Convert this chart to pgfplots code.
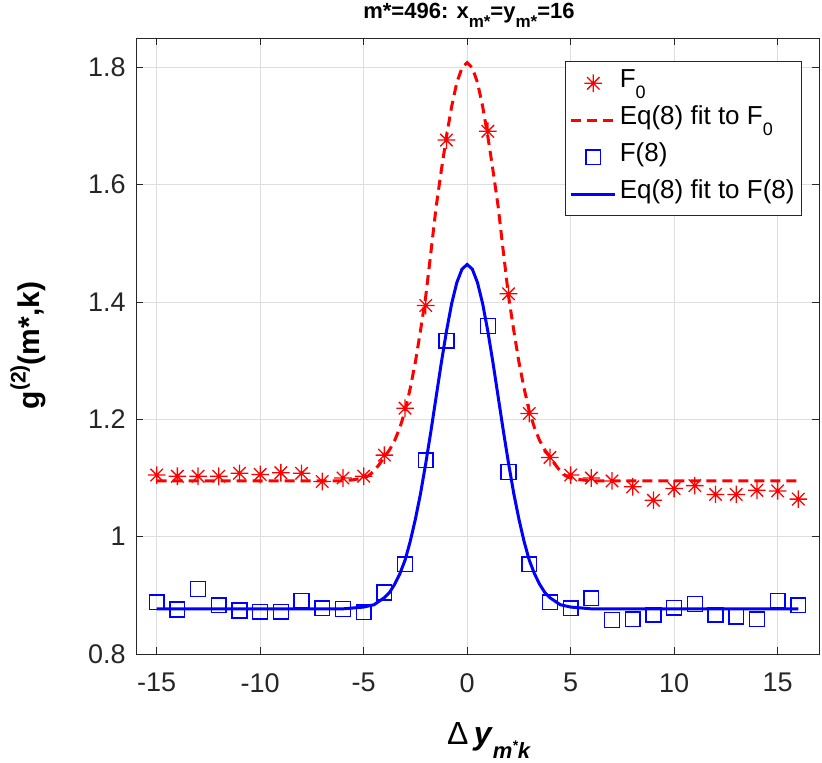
\documentclass[border=0pt]{standalone}
\usepackage{fontspec}
\setmainfont{Liberation Sans}
\usepackage{pgfplots}
\pgfplotsset{compat=1.18}

\definecolor{axgray}{rgb}{0.15,0.15,0.15}
\definecolor{gridgray}{rgb}{0.87,0.87,0.87}

\pgfdeclareplotmark{ast8}{%
  \pgfpathmoveto{\pgfqpoint{-\pgfplotmarksize}{0pt}}%
  \pgfpathlineto{\pgfqpoint{\pgfplotmarksize}{0pt}}%
  \pgfpathmoveto{\pgfqpoint{0pt}{-\pgfplotmarksize}}%
  \pgfpathlineto{\pgfqpoint{0pt}{\pgfplotmarksize}}%
  \pgfpathmoveto{\pgfqpoint{-0.7071\pgfplotmarksize}{-0.7071\pgfplotmarksize}}%
  \pgfpathlineto{\pgfqpoint{0.7071\pgfplotmarksize}{0.7071\pgfplotmarksize}}%
  \pgfpathmoveto{\pgfqpoint{-0.7071\pgfplotmarksize}{0.7071\pgfplotmarksize}}%
  \pgfpathlineto{\pgfqpoint{0.7071\pgfplotmarksize}{-0.7071\pgfplotmarksize}}%
  \pgfusepathqstroke}

\newcommand{\tsub}[1]{\raisebox{-4.5bp}{\fontsize{8.5bp}{9bp}\selectfont #1}}
\newcommand{\lsub}[1]{\raisebox{-5.5bp}{\fontsize{9bp}{9bp}\selectfont #1}}

\begin{document}
\begin{tikzpicture}
\begin{axis}[
  at={(0,0)}, anchor=south west,
  scale only axis, width=341.5bp, height=308bp,
  xmin=-16, xmax=17, ymin=0.8, ymax=1.85,
  xtick={-15,-10,-5,0,5,10,15},
  ytick={0.8,1,1.2,1.4,1.6,1.8},
  grid=major,
  major grid style={gridgray, line width=0.4bp},
  axis line style={axgray, line width=0.45bp},
  tick style={axgray, line width=0.45bp},
  major tick length=3.3bp,
  /pgf/number format/assume math mode=true,
  tick label style={font=\fontsize{13.5bp}{16bp}\selectfont, text=axgray},
  yticklabel style={inner sep=0pt, xshift=-5bp},
  xticklabel style={inner sep=0pt, yshift=-9.5bp},
  ylabel={g\raisebox{7bp}{\fontsize{10.5bp}{10bp}\selectfont (2)}(m*,k)},
  ylabel style={at={(axis description cs:-0.158,0.501)}, anchor=center,
    inner sep=0pt, font=\fontsize{15bp}{17bp}\selectfont\bfseries},
  xlabel={$\!$\fontsize{16bp}{18bp}\selectfont Δ\,\textbf{\textit{y}}\raisebox{-7bp}{\fontsize{11bp}{11bp}\selectfont\bfseries\itshape m\raisebox{4bp}{\fontsize{7bp}{7bp}\selectfont *}k}},
  xlabel style={at={(axis description cs:0.4597,0)}, anchor=base west,
    yshift=-45bp, inner sep=0pt},
  legend image code/.code={%
    \draw[mark repeat=2,mark phase=2] plot coordinates {(0bp,0bp) (11bp,0bp) (22bp,0bp)};},
  legend cell align=left,
  legend style={at={(axis description cs:1,1)}, anchor=north east,
    xshift=-8.5bp, yshift=-11.7bp, draw=axgray, line width=0.4bp,
    font=\fontsize{13bp}{15bp}\selectfont, inner xsep=2bp, inner ysep=1.5bp,
    nodes={inner sep=1.5bp, text height=10bp, text depth=5.5bp}},
]
\addplot[only marks, mark=ast8, mark size=4.4bp, color=red, line width=0.65bp]
  coordinates {
  (-15,1.105) (-14,1.103) (-13,1.103) (-12,1.103) (-11,1.108) (-10,1.106)
  (-9,1.109) (-8,1.108) (-7,1.094) (-6,1.100) (-5,1.103) (-4,1.139)
  (-3,1.219) (-2,1.394) (-1,1.676) (1,1.691) (2,1.414) (3,1.210)
  (4,1.135) (5,1.105) (6,1.100) (7,1.095) (8,1.085) (9,1.062)
  (10,1.082) (11,1.087) (12,1.072) (13,1.072) (14,1.079) (15,1.078) (16,1.064)
  };
\addlegendentry{F\lsub{0}}
\addplot[color=red, line width=1.5bp, dash pattern=on 5bp off 3bp, no marks]
  coordinates {
  (-15,1.095) (-6,1.095) (-5.5,1.097) (-5,1.100) (-4.75,1.104) (-4.5,1.112)
  (-4.25,1.123) (-4,1.136) (-3.75,1.148) (-3.5,1.164) (-3.25,1.186) (-3,1.214)
  (-2.75,1.253) (-2.5,1.298) (-2.25,1.352) (-2,1.410) (-1.75,1.485) (-1.5,1.562)
  (-1.25,1.624) (-1,1.682) (-0.75,1.733) (-0.5,1.774) (-0.25,1.799) (0,1.808)
  (0.25,1.799) (0.5,1.774) (0.75,1.733) (1,1.682) (1.25,1.624) (1.5,1.562)
  (1.75,1.485) (2,1.410) (2.25,1.352) (2.5,1.298) (2.75,1.253) (3,1.214)
  (3.25,1.186) (3.5,1.164) (3.75,1.148) (4,1.136) (4.25,1.123) (4.5,1.112)
  (4.75,1.104) (5,1.100) (5.5,1.097) (6,1.095) (16,1.095)
  };
\addlegendentry{Eq(8) fit to F\lsub{0}}
\addplot[only marks, mark=square, mark size=3.7bp, color=blue, line width=0.7bp]
  coordinates {
  (-15,0.888) (-14,0.876) (-13,0.911) (-12,0.883) (-11,0.874) (-10,0.872)
  (-9,0.872) (-8,0.891) (-7,0.878) (-6,0.877) (-5,0.871) (-4,0.905)
  (-3,0.953) (-2,1.130) (-1,1.334) (1,1.359) (2,1.110) (3,0.953)
  (4,0.888) (5,0.878) (6,0.895) (7,0.858) (8,0.859) (9,0.867)
  (10,0.879) (11,0.885) (12,0.867) (13,0.864) (14,0.859) (15,0.891) (16,0.883)
  };
\addlegendentry{F(8)}
\addplot[color=blue, line width=1.5bp, no marks]
  coordinates {
  (-15,0.877) (-6,0.877) (-5,0.880) (-4.5,0.884) (-4,0.896) (-3.75,0.905)
  (-3.5,0.919) (-3.25,0.937) (-3,0.960) (-2.75,0.992) (-2.5,1.030) (-2.25,1.074)
  (-2,1.125) (-1.75,1.180) (-1.5,1.238) (-1.25,1.296) (-1,1.350) (-0.75,1.397)
  (-0.5,1.433) (-0.25,1.456) (0,1.464) (0.25,1.456) (0.5,1.433) (0.75,1.397)
  (1,1.350) (1.25,1.296) (1.5,1.238) (1.75,1.180) (2,1.125) (2.25,1.074)
  (2.5,1.030) (2.75,0.992) (3,0.960) (3.25,0.937) (3.5,0.919) (3.75,0.905)
  (4,0.896) (4.5,0.884) (5,0.880) (6,0.877) (16,0.877)
  };
\addlegendentry{Eq(8) fit to F(8)}
\end{axis}
\node[anchor=base, inner sep=0pt, font=\fontsize{11bp}{13bp}\selectfont\bfseries]
  at (166.5bp,317.5bp) {m*=496: x\tsub{m*}=y\tsub{m*}=16};
\pgfresetboundingbox
\path[use as bounding box] (-68bp,-54.5bp) rectangle (343bp,327bp);
\end{tikzpicture}
\end{document}
